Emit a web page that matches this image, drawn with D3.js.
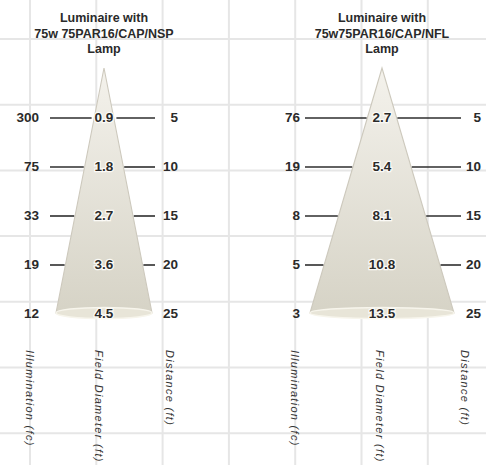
<!DOCTYPE html>
<html>
<head>
<meta charset="utf-8">
<script src="https://cdn.jsdelivr.net/npm/d3@7"></script>
<style>
  body { margin: 0; background: #fff; }
  text { font-family: "Liberation Sans", Arial, sans-serif; }
</style>
</head>
<body>
<div id="chart"></div>
<script>
// distance rows (ft)
const distances = [5, 10, 15, 20, 25];

// NSP lamp
const nspIllum = [300, 75, 33, 19, 12];
const nspDiam = [0.9, 1.8, 2.7, 3.6, 4.5];

// NFL lamp
const nflIllum = [76, 19, 8, 5, 3];
const nflDiam = [2.7, 5.4, 8.1, 10.8, 13.5];

const titles = [
  ["Luminaire with", "75w 75PAR16/CAP/NSP", "Lamp"],
  ["Luminaire with", "75w75PAR16/CAP/NFL", "Lamp"]
];
const axisLabels = ["Illumination (fc)", "Field Diameter (ft)", "Distance (ft)"];

const width = 486, height = 465;

const svg = d3.select("#chart").append("svg")
  .attr("width", width)
  .attr("height", height);

const defs = svg.append("defs");
const grad = defs.append("linearGradient").attr("id", "coneFill")
  .attr("x1", 0).attr("y1", 0).attr("x2", 0).attr("y2", 1);
grad.append("stop").attr("offset", "0%").attr("stop-color", "#f4f2ec");
grad.append("stop").attr("offset", "100%").attr("stop-color", "#d6d3c6");

// background grid
const grid = svg.append("g").attr("stroke", "#e6e6e6").attr("stroke-width", 2);
d3.range(7).forEach(i => {
  grid.append("line").attr("x1", 30 + i * 66.3).attr("x2", 30 + i * 66.3).attr("y1", 0).attr("y2", height);
  grid.append("line").attr("x1", 0).attr("x2", width).attr("y1", 39 + i * 65.7).attr("y2", 39 + i * 65.7);
});

// shared vertical scale: distance -> y
const y = d3.scaleLinear().domain([0, 25]).range([68, 313]);

const panels = [
  { cx: 104, illum: nspIllum, diam: nspDiam, maxHalf: 48, title: titles[0],
    illumX: 39, lineL: 50, lineR: 155, distX: 178, axisX: [30, 99, 170] },
  { cx: 382, illum: nflIllum, diam: nflDiam, maxHalf: 72, title: titles[1],
    illumX: 300, lineL: 305, lineR: 461, distX: 481, axisX: [295, 380, 465] }
];

panels.forEach(p => {
  const g = svg.append("g");
  const hw = d3.scaleLinear().domain([0, d3.max(p.diam)]).range([0, p.maxHalf]);
  const maxD = d3.max(p.diam);

  // title
  g.append("text")
    .attr("text-anchor", "middle")
    .attr("font-size", 12.5).attr("font-weight", "bold")
    .attr("fill", "#2a2a2a")
    .selectAll("tspan").data(p.title).join("tspan")
    .attr("x", p.cx)
    .attr("y", (d, i) => 22 + i * 15.5)
    .text(d => d);

  // cone
  g.append("path")
    .attr("d", d3.line()([[p.cx, y(0)], [p.cx - hw(maxD), y(25)], [p.cx + hw(maxD), y(25)]]) + "Z")
    .attr("fill", "url(#coneFill)")
    .attr("stroke", "#cdc9bd").attr("stroke-width", 1.1);
  g.append("ellipse")
    .attr("cx", p.cx).attr("cy", y(25))
    .attr("rx", hw(maxD)).attr("ry", 5.5)
    .attr("fill", "#e8e5d8").attr("stroke", "#f7f5ec").attr("stroke-width", 1.5);

  distances.forEach((dist, i) => {
    const yy = y(dist);
    const ty = yy + 5;

    const dText = g.append("text")
      .attr("x", p.cx).attr("y", ty)
      .attr("text-anchor", "middle")
      .attr("font-size", 13.5).attr("font-weight", "bold")
      .attr("fill", "#2a2a2a")
      .attr("stroke", "#fbfaf6").attr("stroke-width", 2.5).attr("paint-order", "stroke")
      .text(p.diam[i].toFixed(1));
    const half = dText.node().getComputedTextLength() / 2;

    g.append("text")
      .attr("x", p.illumX).attr("y", ty)
      .attr("text-anchor", "end")
      .attr("font-size", 13.5).attr("font-weight", "bold")
      .attr("fill", "#2a2a2a")
      .text(p.illum[i]);

    g.append("text")
      .attr("x", p.distX).attr("y", ty)
      .attr("text-anchor", "end")
      .attr("font-size", 13.5).attr("font-weight", "bold")
      .attr("fill", "#2a2a2a")
      .text(dist);

    // leader lines from label to cone edge
    const leftEnd = Math.min(p.cx - hw(p.diam[i]) - 1, p.cx - half - 3);
    const rightStart = Math.max(p.cx + hw(p.diam[i]) + 1, p.cx + half + 3);
    if (leftEnd - p.lineL > 8) {
      g.append("line").attr("x1", p.lineL).attr("x2", leftEnd).attr("y1", yy + 1).attr("y2", yy + 1)
        .attr("stroke", "#2e2e2e").attr("stroke-width", 1.6);
    }
    if (p.lineR - rightStart > 8) {
      g.append("line").attr("x1", rightStart).attr("x2", p.lineR).attr("y1", yy + 1).attr("y2", yy + 1)
        .attr("stroke", "#2e2e2e").attr("stroke-width", 1.6);
    }
  });

  // rotated column labels
  axisLabels.forEach((lab, i) => {
    g.append("text")
      .attr("transform", `translate(${p.axisX[i] - 4},350) rotate(90)`)
      .attr("font-size", 11).attr("font-style", "italic")
      .attr("letter-spacing", 1.3)
      .attr("fill", "#333")
      .text(lab);
  });
});
</script>
</body>
</html>
